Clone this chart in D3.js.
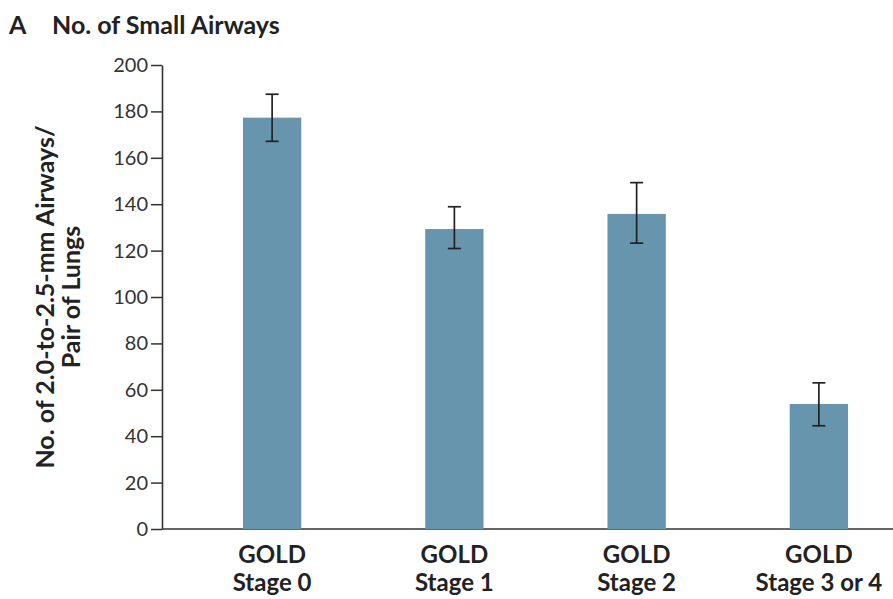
<!DOCTYPE html>
<html><head><meta charset="utf-8">
<script src="https://cdn.jsdelivr.net/npm/d3@7/dist/d3.min.js"></script>
<style>body{margin:0;background:#fff;} text{font-family:Lato,"Open Sans",sans-serif;}</style>
</head><body>
<svg id="c" width="893" height="599"></svg>
<script>
const categories = ["GOLD\nStage 0", "GOLD\nStage 1", "GOLD\nStage 2", "GOLD\nStage 3 or 4"];
const values = [177.3, 129.3, 135.8, 53.9];
const errLow = [167.1, 120.9, 123.2, 44.5];
const errHigh = [187.4, 138.9, 149.3, 63.0];
const yTicks = [0, 20, 40, 60, 80, 100, 120, 140, 160, 180, 200];

(function () {
const svg = d3.select("#c");
const mLeft = 162, mRight = 893, mTop = 65, mBottom = 529;
const x = d3.scaleBand().domain(categories).range([181, 910]).paddingInner(0.68).paddingOuter(0.34);
const y = d3.scaleLinear().domain([0, 200]).range([mBottom, mTop]);

const yAxis = svg.append("g").attr("transform", `translate(${mLeft},0)`)
  .call(d3.axisLeft(y).tickValues(yTicks).tickSize(11).tickPadding(3).tickSizeOuter(0));
yAxis.select(".domain").attr("stroke", "#333").attr("stroke-width", 1.6);
yAxis.selectAll(".tick line").attr("stroke", "#333").attr("stroke-width", 1.5);
yAxis.selectAll(".tick text").attr("fill", "#333").style("font-size", "20px").style("font-family", "Lato, 'Open Sans', sans-serif");

svg.append("line").attr("x1", mLeft).attr("x2", mRight).attr("y1", y(0)).attr("y2", y(0))
  .attr("stroke", "#333").attr("stroke-width", 1.6);

svg.selectAll("rect.bar").data(values).enter().append("rect").attr("class", "bar")
  .attr("x", (d, i) => x(categories[i])).attr("width", x.bandwidth())
  .attr("y", d => y(d)).attr("height", d => y(0) - y(d)).attr("fill", "#6695ad");

const eg = svg.append("g").attr("stroke", "#222").attr("stroke-width", 1.7);
categories.forEach((c, i) => {
  const cx = x(c) + x.bandwidth() / 2;
  eg.append("line").attr("x1", cx).attr("x2", cx).attr("y1", y(errLow[i])).attr("y2", y(errHigh[i]));
  eg.append("line").attr("x1", cx - 6.5).attr("x2", cx + 6.5).attr("y1", y(errLow[i])).attr("y2", y(errLow[i]));
  eg.append("line").attr("x1", cx - 6.5).attr("x2", cx + 6.5).attr("y1", y(errHigh[i])).attr("y2", y(errHigh[i]));
});

categories.forEach(c => {
  const cx = x(c) + x.bandwidth() / 2;
  c.split("\n").forEach((l, j) => {
    svg.append("text").attr("x", cx).attr("y", 563 + j * 28).attr("text-anchor", "middle")
      .attr("fill", "#222").style("font-size", "24px").style("font-weight", "bold").text(l);
  });
});

const yl = svg.append("g").attr("transform", "translate(0,297) rotate(-90)");
yl.append("text").attr("x", 0).attr("y", 54).attr("text-anchor", "middle").attr("fill", "#222")
  .style("font-size", "25px").style("font-weight", "bold").text("No. of 2.0-to-2.5-mm Airways/");
yl.append("text").attr("x", 0).attr("y", 80).attr("text-anchor", "middle").attr("fill", "#222")
  .style("font-size", "25px").style("font-weight", "bold").text("Pair of Lungs");

svg.append("text").attr("x", 9).attr("y", 34).attr("fill", "#222")
  .style("font-size", "25px").style("font-weight", "bold").text("A");
svg.append("text").attr("x", 52).attr("y", 34).attr("fill", "#222")
  .style("font-size", "25px").style("font-weight", "bold").text("No. of Small Airways");
})();
</script>
</body></html>
